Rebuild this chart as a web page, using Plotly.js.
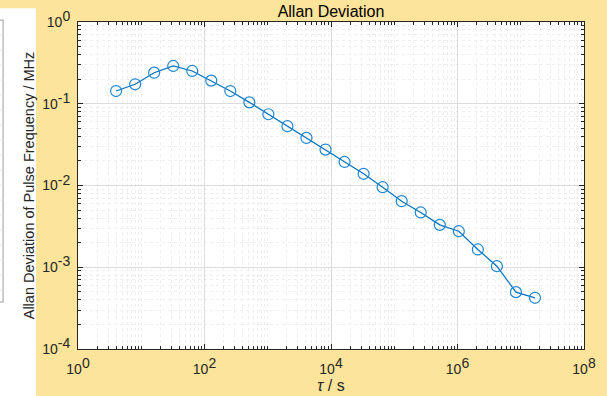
<!DOCTYPE html>
<html>
<head>
<meta charset="utf-8">
<script src="https://cdn.plot.ly/plotly-3.0.1.min.js"></script>
<style>
  html, body { margin: 0; padding: 0; background: #fde49b; }
  #chart { width: 607px; height: 396px; }
</style>
</head>
<body>
<div id="chart"></div>
<script>
// Averaging time tau (s) and Allan deviation of the pulse frequency (MHz)
const tau = [4, 8, 16, 32, 64, 128, 256, 512, 1024, 2048, 4096, 8192, 16384,
             32768, 65536, 131072, 262144, 524288, 1048576, 2097152, 4194304,
             8388608, 16777216];
const adev = [0.143, 0.173, 0.240, 0.290, 0.252, 0.192, 0.143, 0.104, 0.0744,
              0.0531, 0.0382, 0.0275, 0.0194, 0.0139, 0.00953, 0.00643, 0.00468,
              0.00330, 0.00276, 0.00165, 0.00103, 0.000496, 0.000423];

// Axis tick values and their exponents
const xTickVals = [1, 1e2, 1e4, 1e6, 1e8];
const xTickExp = ['0', '2', '4', '6', '8'];
const yTickVals = [1e-4, 1e-3, 1e-2, 1e-1, 1];
const yTickExp = ['-4', '-3', '-2', '-1', '0'];

// "10" with a fairly large raised exponent
const powerLabel = e => '10<sup><span style="font-size:14px">' + e + '</span></sup>';

const axisCommon = {
  type: 'log',
  tickmode: 'array',
  ticks: 'inside',
  ticklen: 5,
  tickwidth: 1,
  tickcolor: '#262626',
  showline: true,
  linecolor: '#262626',
  linewidth: 1,
  mirror: 'allticks',
  showgrid: true,
  gridcolor: '#dcdcdc',
  gridwidth: 1,
  zeroline: false,
  tickfont: { family: 'Liberation Sans, Arial, sans-serif', size: 14, color: '#262626' },
  minor: {
    dtick: 'D1',
    ticks: 'inside',
    ticklen: 3,
    tickcolor: '#262626',
    showgrid: true,
    gridcolor: '#eeeeee',
    griddash: 'dot',
    gridwidth: 1
  }
};

// Light panel at the far left edge with its framed box and faint rules
const leftShapes = [
  { type: 'rect', xref: 'paper', yref: 'paper', x0: -0.2, x1: -0.083, y0: -0.2, y1: 1.042,
    fillcolor: '#ffffff', line: { width: 0 }, layer: 'below' },
  { type: 'rect', xref: 'paper', yref: 'paper', x0: -0.2, x1: -0.148, y0: 0.144, y1: 1.005,
    fillcolor: 'rgba(0,0,0,0)', line: { color: '#bdbdbd', width: 1.5 }, layer: 'below' }
];
for (let py = 35; py < 300; py += 15) {
  const yp = (349 - py) / 327;
  leftShapes.push({ type: 'line', xref: 'paper', yref: 'paper', x0: -0.2, x1: -0.149, y0: yp, y1: yp,
                    line: { color: '#ececec', width: 1 }, layer: 'below' });
}

const trace = {
  x: tau,
  y: adev,
  type: 'scatter',
  mode: 'lines+markers',
  line: { color: '#0072BD', width: 1.2 },
  marker: { symbol: 'circle-open', size: 11, color: '#1f86d0', line: { width: 1.2 } },
  hoverinfo: 'x+y'
};

const layout = {
  width: 607,
  height: 396,
  margin: { l: 78, r: 23, t: 22, b: 47 },
  paper_bgcolor: '#fde49b',
  plot_bgcolor: '#ffffff',
  showlegend: false,
  font: { family: 'Liberation Sans, Arial, sans-serif', color: '#262626' },
  title: {
    text: 'Allan Deviation',
    font: { family: 'Liberation Sans, Arial, sans-serif', size: 16, color: '#000000' },
    x: 0.5, xanchor: 'center', xref: 'paper',
    y: 0.972, yanchor: 'middle', yref: 'container'
  },
  xaxis: Object.assign({}, axisCommon, {
    range: [0, 8],
    tickvals: xTickVals,
    ticktext: xTickExp.map(powerLabel),
    ticklabelstandoff: 7,
    title: { text: '<i>τ</i> / s', font: { size: 16, color: '#262626' }, standoff: 3 }
  }),
  yaxis: Object.assign({}, axisCommon, {
    range: [-4, 0],
    tickvals: yTickVals,
    ticktext: yTickExp.map(powerLabel),
    ticklabelstandoff: 4,
    title: { text: 'Allan Deviation of Pulse Frequency / MHz', font: { size: 14.5, color: '#262626' }, standoff: 4 }
  }),
  shapes: leftShapes
};

Plotly.newPlot('chart', [trace], layout, { displayModeBar: false, staticPlot: true });
</script>
</body>
</html>
